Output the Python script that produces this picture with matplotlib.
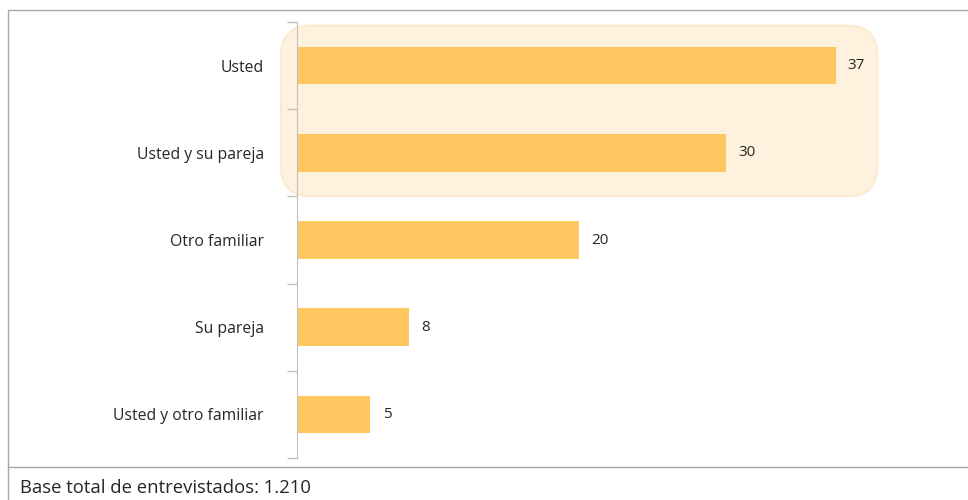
import numpy as np
import matplotlib.pyplot as plt
from matplotlib.patches import FancyBboxPatch, Rectangle
from matplotlib.lines import Line2D

# --- Data ---
categories = ['Usted', 'Usted y su pareja', 'Otro familiar', 'Su pareja', 'Usted y otro familiar']
values = [37.4, 29.8, 19.6, 7.8, 5.1]
highlighted = [0, 1]
base_text = 'Base total de entrevistados: 1.210'

plt.rcParams['font.family'] = ['Open Sans', 'DejaVu Sans']

bar_color = '#FFC760'
text_color = '#262626'
frame_color = '#A6A6A6'
axis_color = '#BFBFBF'

fig = plt.figure(figsize=(9.68, 5.0), dpi=100)

# --- Outer frame and footer separator ---
fig.add_artist(Rectangle((8 / 968, -0.01), 1.0, 1 - 10 / 500 + 0.01, transform=fig.transFigure,
                         fill=False, edgecolor=frame_color, linewidth=1.0))
fig.add_artist(Line2D([8 / 968, 1.0], [1 - 467 / 500] * 2, transform=fig.transFigure,
                      color=frame_color, linewidth=1.0))
fig.text(20 / 968, 1 - 488 / 500, base_text, fontsize=13.3, color=text_color,
         ha='left', va='center')

# --- Bar chart ---
ax = fig.add_axes([297 / 968, 1 - 458 / 500, 648 / 968, 436 / 500])
y = np.arange(len(categories))
ax.barh(y, values, height=0.43, color=bar_color, zorder=3)
for yi, v in zip(y, values):
    ax.text(v + 0.85, yi, f'{v:.0f}', va='center', ha='left', fontsize=11, color=text_color, zorder=4)

ax.set_xlim(0, 45)
ax.set_ylim(len(categories) - 0.5, -0.5)
ax.set_yticks(y)
ax.set_yticklabels(categories, fontsize=11.3, color=text_color)
ax.set_yticks(np.arange(-0.5, len(categories), 1.0), minor=True)
ax.tick_params(axis='y', which='major', length=0, pad=24)
ax.tick_params(axis='y', which='minor', length=7, color=axis_color, width=1)
ax.set_xticks([])
for side in ['top', 'right', 'bottom']:
    ax.spines[side].set_visible(False)
ax.spines['left'].set_color(axis_color)
ax.spines['left'].set_zorder(4)

# --- Highlight box around the top answers ---
px_x = 648 / 45
px_y = 436 / len(categories)
x0 = -16 / px_x
x1 = max(values[i] for i in highlighted) + 2.9
y0 = min(highlighted) - 0.46
y1 = max(highlighted) + 0.5
box = FancyBboxPatch((x0, y0), x1 - x0, y1 - y0,
                     boxstyle=f'round,pad=0,rounding_size={30 / px_x}',
                     mutation_aspect=px_x / px_y,
                     facecolor='#FEF2DF', edgecolor='#FCEAD0', linewidth=1.5,
                     clip_on=False, zorder=1)
ax.add_patch(box)

fig.savefig('out.png', dpi=100)
